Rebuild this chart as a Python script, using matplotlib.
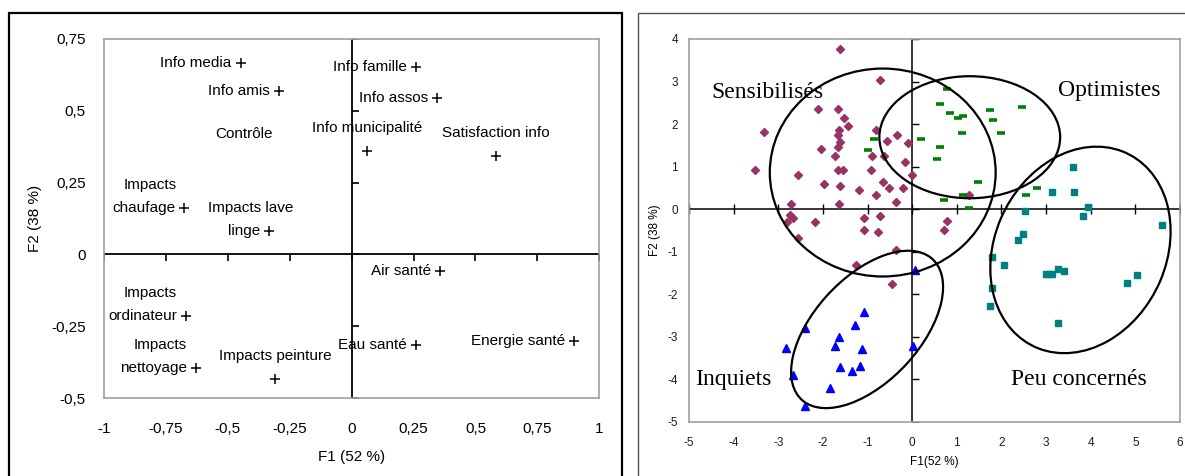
import matplotlib
matplotlib.use("Agg")
import matplotlib.pyplot as plt
from matplotlib.patches import Ellipse, Rectangle

# ---- left panel: variables on the F1/F2 plane ----
var_names = ["Info media", "Info amis", "Info famille", "Info assos", "Info municipalité",
             "Satisfaction info", "Contrôle", "Impacts\nchaufage", "Impacts lave\nlinge",
             "Air santé", "Impacts\nordinateur", "Energie santé", "Eau santé",
             "Impacts\nnettoyage", "Impacts peinture"]
var_f1 = [-0.448, -0.293, 0.258, 0.346, 0.063, 0.583, -0.436, -0.676, -0.333,
          0.357, -0.668, 0.897, 0.258, -0.628, -0.309]
var_f2 = [0.667, 0.569, 0.650, 0.543, 0.359, 0.341, 0.420, 0.163, 0.082,
          -0.059, -0.213, -0.302, -0.315, -0.393, -0.433]
# where the label sits relative to its point
var_place = ["left", "left", "left", "left", "above", "above", "none", "left", "left",
             "left", "left", "left", "left", "left", "above"]

left_xticks = [-1, -0.75, -0.5, -0.25, 0, 0.25, 0.5, 0.75, 1]
left_xlabels = ["-1", "-0,75", "-0,5", "-0,25", "0", "0,25", "0,5", "0,75", "1"]
left_yticks = [-0.5, -0.25, 0, 0.25, 0.5, 0.75]
left_ylabels = ["-0,5", "-0,25", "0", "0,25", "0,5", "0,75"]

# ---- right panel: individuals and the four groups ----
sens_x = [-1.61, -0.72, -2.10, -1.67, -1.52, -1.44, -3.32, -1.65, -0.82, -1.67, -0.33, -1.61, -0.56,
          -0.10, -1.67, -2.04, -1.74, -0.89, -0.64, -0.17, -3.52, -1.67, -1.54, -0.92, -2.56, 0.00,
          -1.98, -1.61, -0.66, -0.52, -0.21, -1.19, -0.82, -0.36, -1.65, -2.72, 1.28, -2.73, -2.67,
          -2.80, -2.18, -1.09, -0.72, 0.79, -1.09, -0.77, 0.72, -2.56, -0.36, -1.25, -0.46]
sens_y = [3.76, 3.04, 2.36, 2.36, 2.14, 1.96, 1.81, 1.85, 1.85, 1.74, 1.74, 1.58, 1.60,
          1.55, 1.45, 1.41, 1.24, 1.24, 1.24, 1.10, 0.91, 0.91, 0.91, 0.91, 0.81, 0.81,
          0.59, 0.55, 0.63, 0.50, 0.50, 0.46, 0.33, 0.16, 0.12, 0.12, 0.34, -0.14, -0.21,
          -0.31, -0.31, -0.22, -0.17, -0.28, -0.49, -0.53, -0.49, -0.68, -0.96, -1.31, -1.76]

opt_x = [0.79, 0.63, 0.85, 1.02, 1.14, 1.75, 2.46, 1.81, 1.11, 2.00, -0.86, 0.19, -1.00,
         0.63, 0.56, 1.47, 2.79, 1.14, 2.56, 0.71, 1.28]
opt_y = [2.82, 2.48, 2.27, 2.15, 2.18, 2.33, 2.40, 2.09, 1.79, 1.79, 1.66, 1.66, 1.39,
         1.47, 1.17, 0.64, 0.49, 0.34, 0.34, 0.21, 0.03]

peu_x = [3.60, 3.14, 3.63, 3.93, 2.52, 3.83, 5.60, 2.48, 2.38, 1.78, 2.05, 2.99, 3.06,
         3.13, 3.26, 3.40, 5.04, 4.82, 1.78, 1.75, 3.27]
peu_y = [1.00, 0.41, 0.41, 0.06, -0.05, -0.16, -0.37, -0.59, -0.73, -1.13, -1.31, -1.53, -1.53,
         -1.53, -1.42, -1.45, -1.56, -1.74, -1.85, -2.28, -2.68]

inq_x = [0.07, -1.09, -1.29, -2.40, -1.64, -1.72, -1.13, 0.02, -2.83, -1.61, -1.35, -1.16,
         -2.67, -1.84, -2.40]
inq_y = [-1.44, -2.43, -2.72, -2.79, -3.01, -3.21, -3.29, -3.21, -3.26, -3.72, -3.80, -3.69,
         -3.91, -4.21, -4.63]

group_names = ["Sensibilisés", "Optimistes", "Inquiets", "Peu concernés"]
# ellipse centre, full width, full height, angle (data units)
group_cx = [-0.66, 1.29, -1.01, 3.77]
group_cy = [0.86, 1.69, -2.83, -0.96]
group_w = [5.06, 4.05, 4.42, 5.00]
group_h = [4.89, 2.87, 2.40, 3.86]
group_ang = [0, 0, 49.4, 68]

right_xticks = list(range(-5, 7))
right_xlabels = [str(v) for v in right_xticks]
right_yticks = list(range(-5, 5))
right_ylabels = [str(v) for v in right_yticks]

plt.rcParams["font.family"] = ["Liberation Sans", "DejaVu Sans"]

fig = plt.figure(figsize=(11.85, 4.76), dpi=100)

# panel borders
fig.add_artist(Rectangle((9 / 1185, -0.05), (622 - 9) / 1185, 1.05 - 13 / 476,
                         transform=fig.transFigure, fill=False, ec="black", lw=1.6))
fig.add_artist(Rectangle((638 / 1185, -0.05), 0.6, 1.05 - 13 / 476,
                         transform=fig.transFigure, fill=False, ec="#505050", lw=1.0))

# ================= left panel =================
ax1 = fig.add_axes([104 / 1185, 1 - 398.3 / 476, 495.3 / 1185, 359.6 / 476])
ax1.set_xlim(-1, 1)
ax1.set_ylim(-0.5, 0.75)
for s in ax1.spines.values():
    s.set_color("#a0a0a0")
    s.set_linewidth(1.2)
ax1.axhline(0, color="black", lw=1.3, zorder=1)
ax1.axvline(0, color="black", lw=1.3, zorder=1)
ax1.plot(left_xticks, [0] * len(left_xticks), ls="none", marker=3, ms=5, mew=1.2, color="black")
ax1.plot([0] * len(left_yticks), left_yticks, ls="none", marker=1, ms=5, mew=1.2, color="black")
ax1.set_xticks(left_xticks, left_xlabels)
ax1.set_yticks(left_yticks, left_ylabels)
ax1.tick_params(length=0, labelsize=11, colors="black")
ax1.tick_params(axis="x", pad=17)
ax1.tick_params(axis="y", pad=13)
ax1.set_xlabel("F1 (52 %)", fontsize=11)
ax1.set_ylabel("F2 (38 %)", fontsize=11)
ax1.xaxis.set_label_coords(0.5, -(457 - 398.3) / 359.6)
ax1.xaxis.label.set_va("center")
ax1.yaxis.set_label_coords(-(104 - 35.5) / 495.3, 0.5)
ax1.yaxis.label.set_va("center")

for name, x, y, place in zip(var_names, var_f1, var_f2, var_place):
    if place == "none":
        ax1.annotate(name, (x, y), ha="center", va="center", fontsize=11)
        continue
    ax1.plot(x, y, marker="+", ms=7, mew=1.1, color="black", ls="none")
    if place == "above":
        ax1.annotate(name, (x, y), xytext=(0, 23), textcoords="offset pixels",
                     ha="center", va="center", fontsize=11)
        continue
    lines = name.split("\n")
    last = ax1.annotate(lines[-1], (x, y), xytext=(-9, 0), textcoords="offset pixels",
                        ha="right", va="center", fontsize=11)
    if len(lines) > 1:
        # centre the first line over "last line +" like the original
        fig.canvas.draw()
        bb = last.get_window_extent()
        px = ax1.transData.transform((x, y))[0]
        mid = (bb.x0 + px + 5) / 2 - px
        ax1.annotate(lines[0], (x, y), xytext=(mid, 23), textcoords="offset pixels",
                     ha="center", va="center", fontsize=11)

# ================= right panel =================
ax2 = fig.add_axes([689 / 1185, 1 - 421.7 / 476, 491 / 1185, 382.7 / 476])
ax2.set_xlim(-5, 6)
ax2.set_ylim(-5, 4)
for s in ax2.spines.values():
    s.set_color("#a0a0a0")
    s.set_linewidth(1.2)
ax2.axhline(0, color="black", lw=1.1, zorder=1)
ax2.axvline(0, color="black", lw=1.1, zorder=1)
ax2.plot(right_xticks, [0] * len(right_xticks), ls="none", marker="|", ms=7, mew=1.0, color="black")
ax2.plot([0] * len(right_yticks), right_yticks, ls="none", marker=1, ms=5, mew=1.0, color="black")
ax2.set_xticks(right_xticks, right_xlabels)
ax2.set_yticks(right_yticks, right_ylabels)
ax2.tick_params(length=0, labelsize=8.5, colors="#1a1a2a")
ax2.tick_params(axis="x", pad=11)
ax2.tick_params(axis="y", pad=8)
ax2.set_xlabel("F1(52 %)", fontsize=8.5)
ax2.set_ylabel("F2 (38 %)", fontsize=8.5)
ax2.xaxis.set_label_coords(0.5, -(462 - 421.7) / 382.7)
ax2.xaxis.label.set_va("center")
ax2.yaxis.set_label_coords(-(689 - 655) / 491, 0.5)
ax2.yaxis.label.set_va("center")

ax2.plot(sens_x, sens_y, ls="none", marker="D", ms=3.8, color="#993366", zorder=3)
ax2.plot(opt_x, opt_y, ls="none", marker="_", ms=6, mew=2.6, color="#008000", zorder=3)
ax2.plot(peu_x, peu_y, ls="none", marker="s", ms=4.8, color="#008080", zorder=3)
ax2.plot(inq_x, inq_y, ls="none", marker="^", ms=6, color="#0000ff", zorder=3)

for cx, cy, w, h, a in zip(group_cx, group_cy, group_w, group_h, group_ang):
    ax2.add_patch(Ellipse((cx, cy), w, h, angle=a, fill=False, ec="black", lw=1.6, zorder=4))

name_pos = {"Sensibilisés": (-4.49, 2.74), "Optimistes": (3.27, 2.80),
            "Inquiets": (-4.87, -4.0), "Peu concernés": (2.21, -4.0)}
for g in group_names:
    ax2.text(*name_pos[g], g, ha="left", va="center", fontsize=17,
             family=["Liberation Serif", "DejaVu Serif"], zorder=5)

fig.savefig("out.png", dpi=100)
